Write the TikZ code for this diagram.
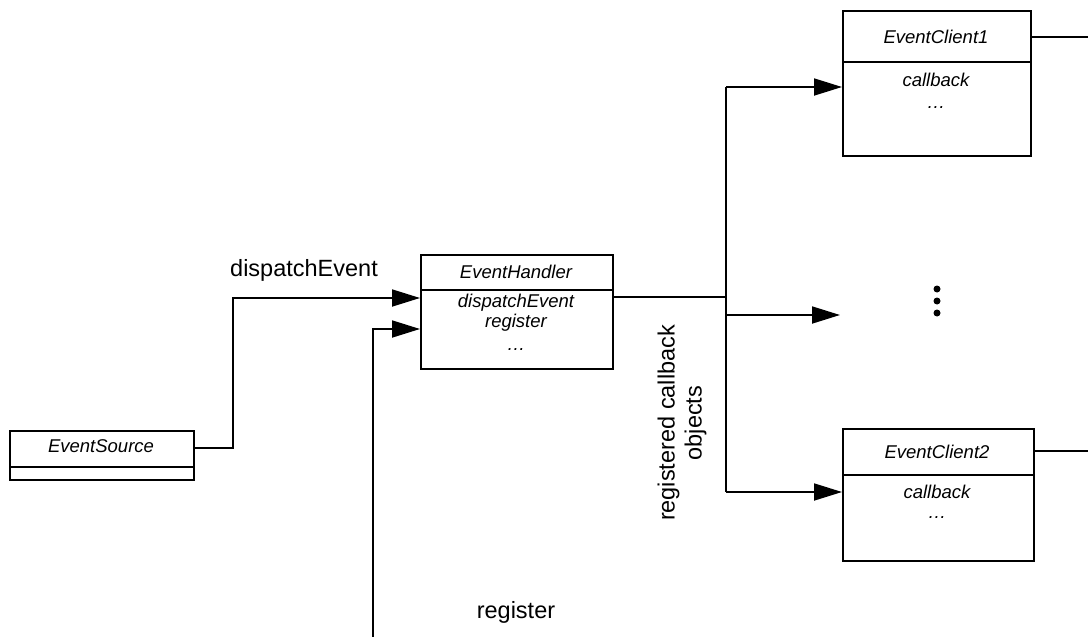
\documentclass[tikz,border=0pt]{standalone}
\usepackage{fontspec}
\setmainfont{Liberation Sans}
\usetikzlibrary{arrows.meta}

\begin{document}
\begin{tikzpicture}[x=1pt, y=-1pt, line width=1.8pt,
  box/.style={draw, line width=1.8pt, anchor=north west, inner sep=0pt},
  lbl/.style={font=\fontsize{23.5}{27}\selectfont, inner sep=0pt},
  itl/.style={font=\fontsize{18.5}{21}\selectfont\itshape, inner sep=0pt},
  arr/.style={-{Triangle[length=28pt,width=17pt]}}]

\useasboundingbox (0,0) rectangle (1088,637);

% class boxes
\node[box, minimum width=184pt, minimum height=49pt]  (es)  at (9,430)  {};
\node[box, minimum width=192pt, minimum height=114pt] (eh)  at (420,254) {};
\node[box, minimum width=188pt, minimum height=145pt] (ec1) at (842,10)  {};
\node[box, minimum width=191pt, minimum height=132pt] (ec2) at (842,428) {};

% compartment dividers
\draw (es.west |- 0,467)  -- (es.east |- 0,467);
\draw (eh.west |- 0,290)  -- (eh.east |- 0,290);
\draw (ec1.west |- 0,62)  -- (ec1.east |- 0,62);
\draw (ec2.west |- 0,475) -- (ec2.east |- 0,475);

% box texts
\node[itl] (est)  at (101,446) {EventSource};
\node[itl] (eht)  at (516,272) {EventHandler};
\node[itl] (ehm1) at (516,303) {dispatchEvent};
\node[itl] (ehm2) at (516,323) {register};
\node[itl] (ehm3) at (516,350) {\dots};
\node[itl] (c1t)  at (936,37)  {EventClient1};
\node[itl] (c1m1) at (936,80)  {callback};
\node[itl] (c1m2) at (936,108) {\dots};
\node[itl] (c2t)  at (937,452) {EventClient2};
\node[itl] (c2m1) at (937,492) {callback};
\node[itl] (c2m2) at (937,518) {\dots};

% outgoing lines on the clients
\coordinate (o1) at (1088,37);
\coordinate (o2) at (1088,451);
\draw (ec1.east |- o1) -- (o1);
\draw (ec2.east |- o2) -- (o2);

% source to handler
\draw[arr] (es.east |- 0,448) -| (233,298) -- (eh.west |- 0,298);

% register call coming from below
\coordinate (regin) at (373,637);
\draw[arr] (regin) |- (eh.west |- 0,329);

% handler fan-out to the clients
\coordinate (bt) at (726,87);
\coordinate (bm) at (726,315);
\coordinate (bb) at (726,492);
\coordinate (more) at (840,315);
\draw (eh.east |- 0,297) -- (726,297);
\draw (bt) -- (bb);
\draw[arr] (bt) -- (ec1.west |- bt);
\draw[arr] (bm) -- (more);
\draw[arr] (bb) -- (ec2.west |- bb);

% ellipsis for further clients
\fill (937,289) circle (3.5pt);
\fill (937,301) circle (3.5pt);
\fill (937,313) circle (3.5pt);

% labels
\node[lbl] (ldisp) at (304,270) {dispatchEvent};
\node[lbl] (lreg)  at (516,612) {register};
\node[lbl, rotate=90, align=center] (lcb) at (682,423) {registered callback\\objects};
\end{tikzpicture}
\end{document}
